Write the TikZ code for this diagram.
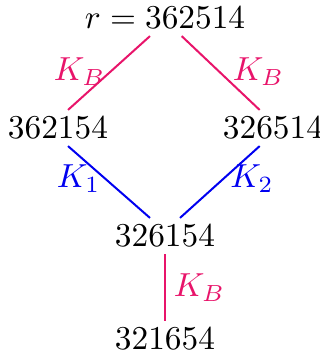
\documentclass[tikz,border=0pt]{standalone}
\usepackage{amsmath, amssymb}
\usepackage{tikz}
\usepackage{xcolor}
\usetikzlibrary{positioning, calc}
\definecolor{kbPink}{HTML}{E8146A}
\definecolor{kBlue} {HTML}{0000F0}

\begin{document}
\begin{tikzpicture}[x=0.3pt, y=-0.3pt,
    perm/.style={inner sep=2pt},
    kbEdge/.style={kbPink, line width=0.6pt},
    kEdge/.style={kBlue, line width=0.6pt}]
  \useasboundingbox (0,0) rectangle (320,353);
  % permutations
  \node[perm] (top)   at (165, 18)  {$r = 362514$};
  \node[perm] (left)  at (58, 128)  {$362154$};
  \node[perm] (right) at (273, 128) {$326514$};
  \node[perm] (mid)   at (165, 236) {$326154$};
  \node[perm] (bot)   at (165, 339) {$321654$};
  % upper edges
  \draw[kbEdge] ([xshift=-4.5pt]top.south) -- node[midway, left, xshift=2.5pt, yshift=0.5pt] {$K_B$} ([xshift=3pt]left.north);
  \draw[kbEdge] ([xshift=5pt]top.south) -- node[midway, right, xshift=0pt, yshift=0.5pt] {$K_B$} ([xshift=-4pt]right.north);
  % lower edges
  \draw[kEdge] ([xshift=3pt]left.south) -- node[midway, left, xshift=1pt, yshift=1pt] {$K_1$} ([xshift=-4.5pt]mid.north);
  \draw[kEdge] ([xshift=-4pt]right.south) -- node[midway, right, xshift=-0.5pt, yshift=1pt] {$K_2$} ([xshift=4.5pt]mid.north);
  \draw[kbEdge] (mid.south) -- node[midway, right, xshift=-1pt] {$K_B$} (bot.north);
\end{tikzpicture}
\end{document}
